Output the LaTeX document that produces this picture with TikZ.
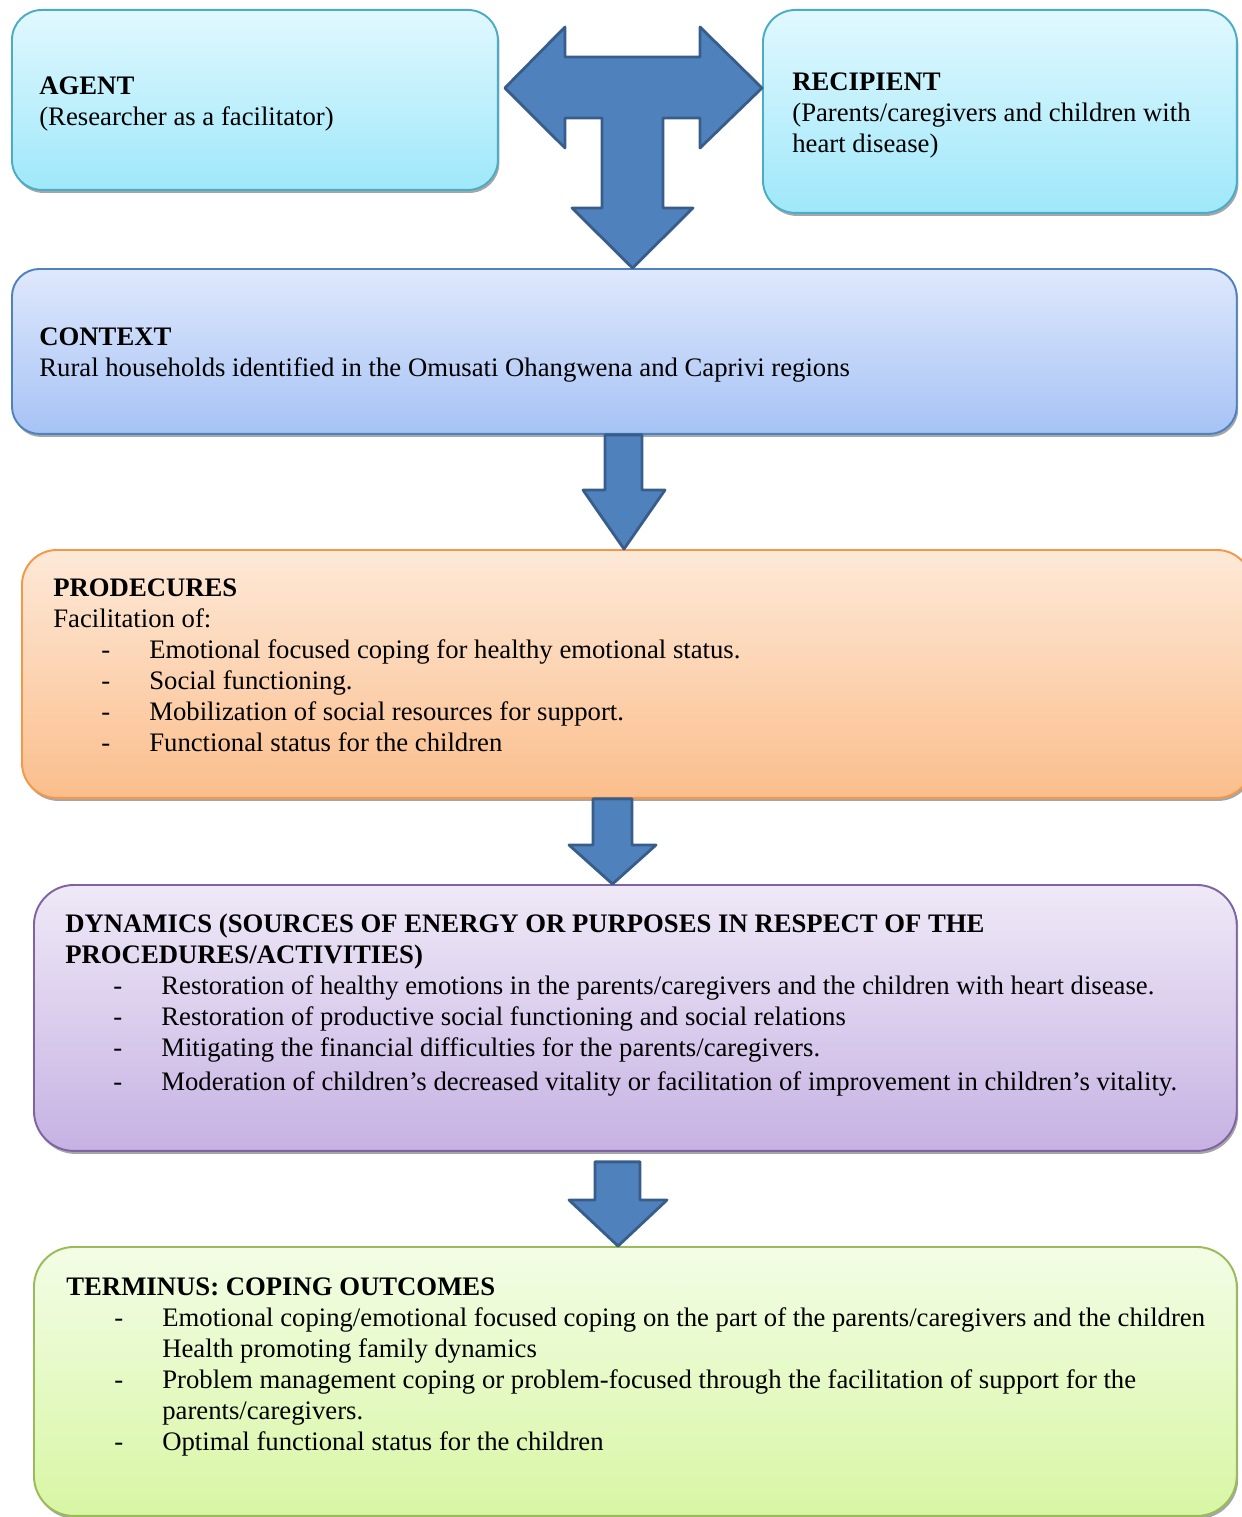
\documentclass[tikz,border=0pt]{standalone}
\usepackage{fontspec}
\setmainfont{Liberation Serif}
\usetikzlibrary{calc,shadows}

\definecolor{aquatop}{HTML}{E1F8FE}
\definecolor{aquabot}{HTML}{9FE8FA}
\definecolor{aqualine}{HTML}{4BACC6}
\definecolor{ctxtop}{HTML}{DFE8FC}
\definecolor{ctxbot}{HTML}{A6C3F5}
\definecolor{ctxline}{HTML}{4F81BD}
\definecolor{protop}{HTML}{FDE9D8}
\definecolor{probot}{HTML}{FBBE8C}
\definecolor{proline}{HTML}{F79646}
\definecolor{dyntop}{HTML}{EFE9F7}
\definecolor{dynbot}{HTML}{C6B2E3}
\definecolor{dynline}{HTML}{8064A2}
\definecolor{termtop}{HTML}{F3FDE6}
\definecolor{termbot}{HTML}{D8F6A4}
\definecolor{termline}{HTML}{9BBB59}
\definecolor{arrfill}{HTML}{4F81BD}
\definecolor{arrline}{HTML}{385D8A}

% dash and hanging indent for the list lines
\newcommand{\dashit}{\hspace*{0.96cm}\makebox[0.96cm][l]{-}}
\newcommand{\contit}{\hspace*{1.92cm}}

\begin{document}
\begin{tikzpicture}
      [x=0.02cm,y=-0.02cm
      ,box/.style={draw,line width=1.1pt,anchor=north west,inner sep=0pt,
          drop shadow={shadow xshift=0.03cm,shadow yshift=-0.06cm,fill=black!50,opacity=.7}}
      ,txt/.style={anchor=north west,inner sep=0pt,align=left,font=\fontsize{15.2}{17.64}\selectfont}
      ,blockarr/.style={fill=arrfill,draw=arrline,line width=1.6pt,line join=round}
      ]
        \useasboundingbox (0,0) rectangle (1241,1517);

        % boxes
        \node[box,draw=aqualine,top color=aquatop,bottom color=aquabot,rounded corners=0.6cm,
              minimum width=9.72cm,minimum height=3.6cm] (agent) at (11,9) {};
        \node[box,draw=aqualine,top color=aquatop,bottom color=aquabot,rounded corners=0.65cm,
              minimum width=9.48cm,minimum height=4.06cm] (recipient) at (762,9) {};
        \node[box,draw=ctxline,top color=ctxtop,bottom color=ctxbot,rounded corners=0.55cm,
              minimum width=24.5cm,minimum height=3.3cm] (context) at (11,268) {};
        \node[box,draw=proline,top color=protop,bottom color=probot,rounded corners=0.7cm,
              minimum width=24.6cm,minimum height=4.96cm] (procedures) at (21,549) {};
        \node[box,draw=dynline,top color=dyntop,bottom color=dynbot,rounded corners=0.8cm,
              minimum width=24.06cm,minimum height=5.32cm] (dynamics) at (33,884) {};
        \node[box,draw=termline,top color=termtop,bottom color=termbot,rounded corners=0.8cm,
              minimum width=24.06cm,minimum height=5.38cm] (terminus) at (33,1246) {};

        % texts
        \node[txt] (agenttxt) at (39,76) {\textbf{AGENT}\\(Researcher as a facilitator)};
        \node[txt] (recipienttxt) at (792,72) {\textbf{RECIPIENT}\\(Parents/caregivers and children with\\heart disease)};
        \node[txt] (contexttxt) at (39,327) {\textbf{CONTEXT}\\Rural households identified in the Omusati Ohangwena and Caprivi regions};
        \node[txt] (procedurestxt) at (53,578) {\textbf{PRODECURES}\\Facilitation of:\\
            \dashit Emotional focused coping for healthy emotional status.\\
            \dashit Social functioning.\\
            \dashit Mobilization of social resources for support.\\
            \dashit Functional status for the children};
        \node[txt] (dynamicstxt) at (65,914) {\textbf{DYNAMICS (SOURCES OF ENERGY OR PURPOSES IN RESPECT OF THE}\\
            \textbf{PROCEDURES/ACTIVITIES)}\\
            \dashit Restoration of healthy emotions in the parents/caregivers and the children with heart disease.\\
            \dashit Restoration of productive social functioning and social relations\\
            \dashit Mitigating the financial difficulties for the parents/caregivers.\\[0.06cm]
            \dashit Moderation of children’s decreased vitality or facilitation of improvement in children’s vitality.};
        \node[txt] (terminustxt) at (66,1277) {\textbf{TERMINUS: COPING OUTCOMES}\\
            \dashit Emotional coping/emotional focused coping on the part of the parents/caregivers and the children\\
            \contit Health promoting family dynamics\\
            \dashit Problem management coping or problem-focused through the facilitation of support for the\\
            \contit parents/caregivers.\\
            \dashit Optimal functional status for the children};

        % T arrow between agent, recipient and context
        \coordinate (tleft) at ($(agent.east |- 0,88)+(6,0)$);
        \coordinate (tright) at (recipient.west |- 0,88);
        \coordinate (tdown) at (context.north -| 632.5,0);
        \draw[blockarr] (tleft) -- (565,27) -- (565,57) -- (700,57) -- (700,27) -- (tright)
            -- (700,148) -- (700,118) -- (663,118) -- (663,208) -- (693,208) -- (tdown)
            -- (572,208) -- (602,208) -- (602,118) -- (565,118) -- (565,148) -- cycle;

        % down arrows
        \draw[blockarr] (605,0 |- context.south) -- (605,490) -- (583,490) -- (procedures.north -| 624,0)
            -- (665,490) -- (642,490) -- (642,0 |- context.south) -- cycle;
        \draw[blockarr] (593,0 |- procedures.south) -- (593,845) -- (569,845) -- (dynamics.north -| 612.5,0)
            -- (656,845) -- (632,845) -- (632,0 |- procedures.south) -- cycle;
        \draw[blockarr] ($(dynamics.south -| 595,0)+(0,10)$) -- (595,1200) -- (569,1200) -- (terminus.north -| 618,0)
            -- (667,1200) -- (640,1200) -- ($(dynamics.south -| 640,0)+(0,10)$) -- cycle;
      \end{tikzpicture}
\end{document}
